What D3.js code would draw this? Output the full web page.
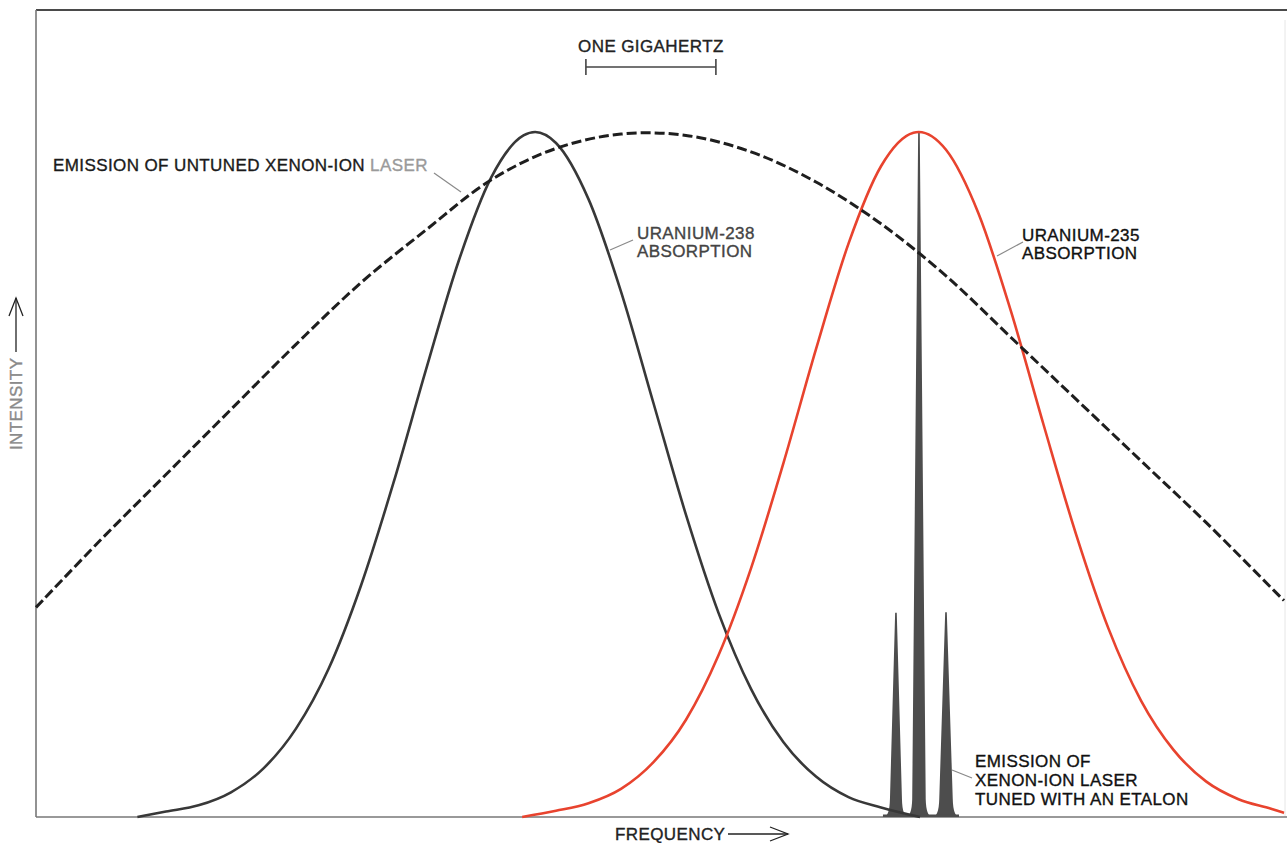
<!DOCTYPE html>
<html>
<head>
<meta charset="utf-8">
<script src="https://cdn.jsdelivr.net/npm/d3@7"></script>
<style>
  html, body { margin: 0; padding: 0; background: #fff; }
  svg { display: block; }
  text { font-family: "Liberation Sans", Arial, Helvetica, sans-serif; font-size: 17px; letter-spacing: 0.4px; stroke-width: 0.35px; }
</style>
</head>
<body>
<svg id="chart" width="1287" height="843"></svg>
<script>
// Frequency in GHz measured from the left edge of the plot; intensity relative to line peak.
const freq238 = [0.78, 1.0, 1.25, 1.5, 1.75, 2.0, 2.25, 2.5, 2.75, 3.0, 3.25, 3.5, 3.75, 3.84, 4.0, 4.25, 4.5, 4.75, 5.0, 5.25, 5.5, 5.75, 6.0, 6.25, 6.5, 6.8];
const u238Absorption = [0.0, 0.008, 0.017, 0.036, 0.071, 0.129, 0.216, 0.338, 0.488, 0.653, 0.811, 0.933, 0.995, 1.0, 0.984, 0.902, 0.767, 0.604, 0.441, 0.298, 0.187, 0.109, 0.059, 0.029, 0.014, 0.0];

const freq235 = [3.74, 4.0, 4.25, 4.5, 4.75, 5.0, 5.25, 5.5, 5.75, 6.0, 6.25, 6.5, 6.75, 6.79, 7.0, 7.25, 7.5, 7.75, 8.0, 8.25, 8.5, 8.75, 9.0, 9.25, 9.5, 9.6];
const u235Absorption = [0.0, 0.009, 0.020, 0.041, 0.080, 0.142, 0.236, 0.363, 0.517, 0.683, 0.837, 0.950, 0.999, 1.0, 0.974, 0.881, 0.738, 0.573, 0.413, 0.275, 0.170, 0.098, 0.052, 0.026, 0.012, 0.006];

const freqLaser = [0.0, 0.5, 1.0, 1.5, 2.0, 2.5, 3.0, 3.5, 4.0, 4.5, 5.0, 5.5, 6.0, 6.5, 7.0, 7.5, 8.0, 8.5, 9.0, 9.5, 9.6];
const untunedEmission = [0.306, 0.405, 0.50, 0.595, 0.69, 0.78, 0.857, 0.93, 0.976, 0.997, 0.995, 0.971, 0.927, 0.866, 0.79, 0.70, 0.61, 0.52, 0.43, 0.335, 0.316];

// Etalon-selected laser modes
const modeFreq = [6.615, 6.792, 7.0];
const modeIntensity = [0.298, 1.0, 0.299];

// One-gigahertz scale bar
const scaleBarStart = [4.23];
const scaleBarLength = [1];

const svg = d3.select("#chart");
const plotLeft = 36, plotRight = 1284, plotTop = 10, plotBase = 817;

const x = d3.scaleLinear().domain([0, 9.6]).range([plotLeft, plotRight]);
const y = d3.scaleLinear().domain([0, 1]).range([plotBase, 132]);

const line = d3.line().x(d => x(d[0])).y(d => y(d[1])).curve(d3.curveMonotoneX);
const smoothLine = d3.line().x(d => x(d[0])).y(d => y(d[1])).curve(d3.curveCatmullRom.alpha(0.5));

// Frame
svg.append("line").attr("x1", plotLeft).attr("x2", 1287).attr("y1", plotTop).attr("y2", plotTop)
  .attr("stroke", "#4a4a4a").attr("stroke-width", 2);
svg.append("line").attr("x1", plotLeft).attr("x2", plotLeft).attr("y1", plotTop).attr("y2", plotBase)
  .attr("stroke", "#777").attr("stroke-width", 1.6);
svg.append("line").attr("x1", 1285).attr("x2", 1285).attr("y1", plotTop + 10).attr("y2", plotBase)
  .attr("stroke", "#e6e6e6").attr("stroke-width", 1);
svg.append("line").attr("x1", plotLeft).attr("x2", 1287).attr("y1", plotBase).attr("y2", plotBase)
  .attr("stroke", "#777").attr("stroke-width", 1.6);

// Etalon-tuned emission spikes
const g = svg.append("g");
const spikeWidths = [8, 9, 9];
modeFreq.forEach((f, i) => {
  const cx = x(f), ty = y(modeIntensity[i]), hw = spikeWidths[i];
  const p = d3.path();
  p.moveTo(cx - hw - 4, plotBase);
  p.quadraticCurveTo(cx - hw * 0.8, plotBase - 1, cx - hw * 0.75, plotBase - 18);
  p.lineTo(cx - 0.8, ty);
  p.lineTo(cx + 0.8, ty);
  p.lineTo(cx + hw * 0.75, plotBase - 18);
  p.quadraticCurveTo(cx + hw * 0.8, plotBase - 1, cx + hw + 4, plotBase);
  p.closePath();
  g.append("path").attr("d", p.toString()).attr("fill", "#4d4d4d");
});
g.append("rect").attr("x", x(modeFreq[0]) - 13).attr("y", plotBase - 2.5)
  .attr("width", x(modeFreq[2]) - x(modeFreq[0]) + 26).attr("height", 2.5).attr("fill", "#4d4d4d");

// Absorption lines
svg.append("path").datum(d3.zip(freq238, u238Absorption)).attr("d", line)
  .attr("fill", "none").attr("stroke", "#383838").attr("stroke-width", 2.6);
svg.append("path").datum(d3.zip(freq235, u235Absorption)).attr("d", line)
  .attr("fill", "none").attr("stroke", "#e8432e").attr("stroke-width", 2.6);

// Untuned laser emission (dashed)
svg.append("path").datum(d3.zip(freqLaser, untunedEmission)).attr("d", smoothLine)
  .attr("fill", "none").attr("stroke", "#1e1e1e").attr("stroke-width", 3)
  .attr("stroke-dasharray", "10,4");

// Scale bar
const sb0 = x(scaleBarStart[0]), sb1 = x(scaleBarStart[0] + scaleBarLength[0]);
const sbG = svg.append("g").attr("stroke", "#444").attr("stroke-width", 1.6);
sbG.append("line").attr("x1", sb0).attr("x2", sb1).attr("y1", 67).attr("y2", 67);
sbG.append("line").attr("x1", sb0).attr("x2", sb0).attr("y1", 59).attr("y2", 75);
sbG.append("line").attr("x1", sb1).attr("x2", sb1).attr("y1", 59).attr("y2", 75);
svg.append("text").attr("x", (sb0 + sb1) / 2).attr("y", 52).attr("text-anchor", "middle")
  .attr("fill", "#222").attr("stroke", "#222").text("ONE GIGAHERTZ");

// Labels and leaders
const leader = (x1, y1, x2, y2) => svg.append("line")
  .attr("x1", x1).attr("y1", y1).attr("x2", x2).attr("y2", y2)
  .attr("stroke", "#8a8a8a").attr("stroke-width", 1.2);

const t1 = svg.append("text").attr("x", 53).attr("y", 171).attr("fill", "#1a1a1a").attr("stroke", "#1a1a1a");
t1.append("tspan").text("EMISSION OF UNTUNED XENON-ION ");
t1.append("tspan").attr("fill", "#9a9a9a").attr("stroke", "#9a9a9a").text("LASER");
leader(434, 173, 461, 192);

const t2 = svg.append("text").attr("x", 637).attr("y", 239).attr("fill", "#444").attr("stroke", "#444");
t2.append("tspan").attr("x", 637).text("URANIUM-238");
t2.append("tspan").attr("x", 637).attr("y", 257).text("ABSORPTION");
leader(633, 240, 610, 250);

const t3 = svg.append("text").attr("x", 1022).attr("y", 241).attr("fill", "#111").attr("stroke", "#111");
t3.append("tspan").attr("x", 1022).text("URANIUM-235");
t3.append("tspan").attr("x", 1022).attr("y", 259).text("ABSORPTION");
leader(1023, 242, 997, 256);

const t4 = svg.append("text").attr("fill", "#111").attr("stroke", "#111");
["EMISSION OF", "XENON-ION LASER", "TUNED WITH AN ETALON"].forEach((s, i) => {
  t4.append("tspan").attr("x", 975).attr("y", 767 + i * 19).text(s);
});
leader(972, 778, 952, 770);

// Axis titles with arrows
svg.append("text").attr("x", 615).attr("y", 840).attr("fill", "#222").attr("stroke", "#222").text("FREQUENCY");
const ax = svg.append("g").attr("stroke", "#222").attr("stroke-width", 1.3).attr("fill", "none");
ax.append("line").attr("x1", 728).attr("x2", 788).attr("y1", 834).attr("y2", 834);
ax.append("path").attr("d", "M770,827 L788,834 L770,841");

svg.append("text").attr("transform", "translate(22,450) rotate(-90)").attr("fill", "#8a8a8a")
  .attr("stroke", "#8a8a8a").text("INTENSITY");
ax.append("line").attr("x1", 16).attr("x2", 16).attr("y1", 352).attr("y2", 298);
ax.append("path").attr("d", "M9,316 L16,298 L23,316");
</script>
</body>
</html>
